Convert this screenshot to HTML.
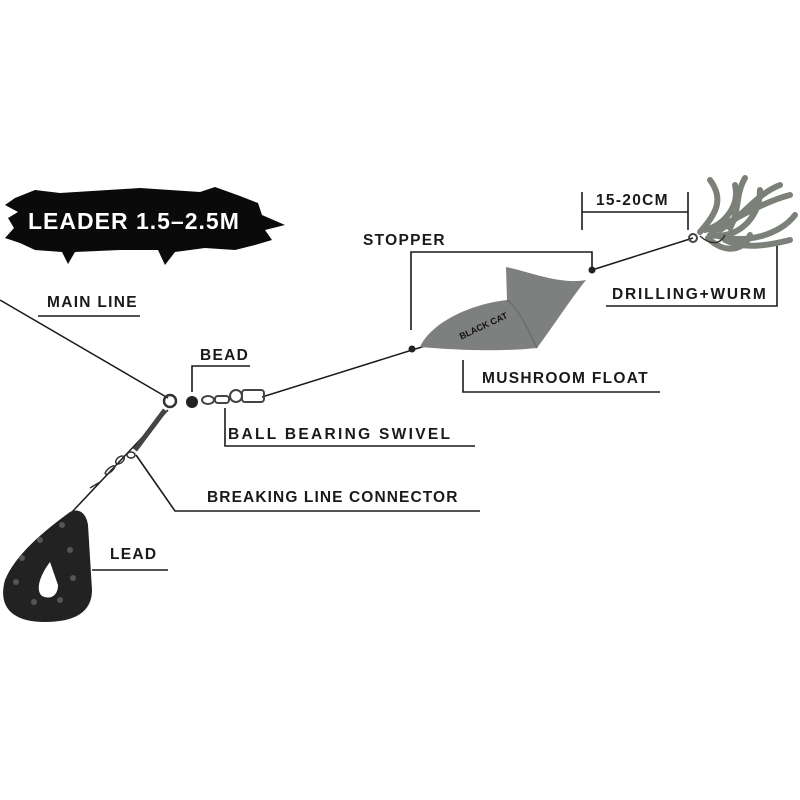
<!DOCTYPE html>
<html><head><meta charset="utf-8"><style>
html,body{margin:0;padding:0;background:#fff;}
svg{display:block}
text{font-family:"Liberation Sans",sans-serif;font-weight:bold;fill:#1a1a1a;font-size:15.5px;letter-spacing:1.3px}
</style></head><body>
<svg width="800" height="800" viewBox="0 0 800 800">
<polygon points="15,198 35,190 60,193 140,188 200,192 215,187 240,196 258,203 262,215 285,225 265,230 272,240 255,245 235,250 205,248 175,252 165,265 158,250 120,250 75,252 68,264 62,252 35,250 20,243 5,238 14,228 8,218 18,212 5,205" fill="#0a0a0a"/>
<text x="28" y="229" style="fill:#fff;font-size:23px;letter-spacing:1px">LEADER 1.5–2.5M</text>

<g stroke="#1a1a1a" fill="none">
<line x1="0" y1="300" x2="168" y2="398" stroke-width="1.5"/>
<line x1="262" y1="397" x2="425" y2="346" stroke-width="1.5"/>
<line x1="592" y1="270" x2="693" y2="238" stroke-width="1.5"/>
<line x1="168" y1="410" x2="72" y2="512" stroke-width="1.5"/>
<g stroke-width="1.6">
<line x1="38" y1="316" x2="140" y2="316"/>
<polyline points="192,392 192,366 250,366"/>
<polyline points="225,408 225,446 475,446"/>
<polyline points="136,455 175,511 480,511"/>
<line x1="92" y1="570" x2="168" y2="570"/>
<polyline points="411,330 411,252 592,252 592,270"/>
<polyline points="463,360 463,392 660,392"/>
<polyline points="582,192 582,230"/><polyline points="688,192 688,230"/><line x1="582" y1="212" x2="688" y2="212"/>
<polyline points="606,306 777,306 777,240"/>
</g>
</g>

<circle cx="170" cy="401" r="6" fill="none" stroke="#333" stroke-width="2.5"/>
<circle cx="192" cy="402" r="6" fill="#222"/>
<g fill="none" stroke="#444" stroke-width="2">
<ellipse cx="208" cy="400" rx="6" ry="4"/>
<rect x="215" y="396" width="14" height="7" rx="3"/>
<ellipse cx="236" cy="396" rx="6" ry="6"/>
<rect x="242" y="390" width="22" height="12" rx="3"/>
</g>
<line x1="165" y1="410" x2="135" y2="450" stroke="#444" stroke-width="5"/>
<g fill="none" stroke="#333" stroke-width="1.5">
<ellipse cx="131" cy="455" rx="4" ry="3"/>
<ellipse cx="120" cy="460" rx="5" ry="3" transform="rotate(-40 120 460)"/>
<ellipse cx="110" cy="470" rx="6" ry="2" transform="rotate(-40 110 470)"/>
<line x1="90" y1="488" x2="100" y2="482"/>
</g>
<path d="M70,512 C45,530 15,555 5,580 C-2,605 10,622 45,622 C75,622 92,612 92,590 L88,525 C86,512 78,508 70,512 Z" fill="#222"/>
<path d="M50,562 C40,575 35,590 42,596 C50,600 58,596 58,585 Z" fill="#fff"/>
<g fill="#555">
<circle cx="62" cy="525" r="3"/><circle cx="40" cy="540" r="3"/><circle cx="70" cy="550" r="3"/><circle cx="22" cy="558" r="3"/>
<circle cx="73" cy="578" r="3"/><circle cx="16" cy="582" r="3"/><circle cx="60" cy="600" r="3"/><circle cx="34" cy="602" r="3"/>
</g>

<path d="M420,347 C430,325 465,305 507,300 L506,267 C530,272 560,285 586,280 C570,300 552,328 537,348 C500,352 455,350 420,347 Z" fill="#7d807e"/>
<path d="M507,300 C520,310 528,330 537,348" fill="none" stroke="#6a6d6b" stroke-width="1.5"/>
<text x="458" y="335" transform="rotate(-25 470 330)" style="font-size:9px;fill:#111;letter-spacing:0">BLACK CAT</text>
<circle cx="412" cy="349" r="3.5" fill="#222"/>
<circle cx="592" cy="270" r="3.5" fill="#222"/>
<circle cx="693" cy="238" r="4" fill="none" stroke="#444" stroke-width="2"/>
<g fill="none" stroke="#7b8078" stroke-width="6" stroke-linecap="round">
<path d="M700,232 C715,215 725,200 710,180"/>
<path d="M705,230 C725,225 740,205 735,185"/>
<path d="M710,235 C735,240 760,220 760,190"/>
<path d="M715,235 C745,245 780,235 795,215"/>
<path d="M712,232 C740,215 770,200 790,195"/>
<path d="M708,238 C725,255 745,250 750,235"/>
<path d="M720,230 C745,215 755,195 780,185"/>
<path d="M725,240 C745,250 770,245 790,240"/>
<path d="M730,228 C740,210 735,195 745,178"/>
</g>
<path d="M700,236 C710,245 720,245 725,235" fill="none" stroke="#333" stroke-width="1.5"/>

<text x="47" y="307">MAIN LINE</text>
<text x="200" y="360">BEAD</text>
<text x="228" y="439" style="letter-spacing:2.3px">BALL BEARING SWIVEL</text>
<text x="207" y="502" style="letter-spacing:1.1px">BREAKING LINE CONNECTOR</text>
<text x="110" y="559">LEAD</text>
<text x="363" y="245">STOPPER</text>
<text x="482" y="383" style="letter-spacing:1.3px">MUSHROOM FLOAT</text>
<text x="596" y="205">15-20CM</text>
<text x="612" y="299" style="letter-spacing:1.8px">DRILLING+WURM</text>
</svg>
</body></html>
